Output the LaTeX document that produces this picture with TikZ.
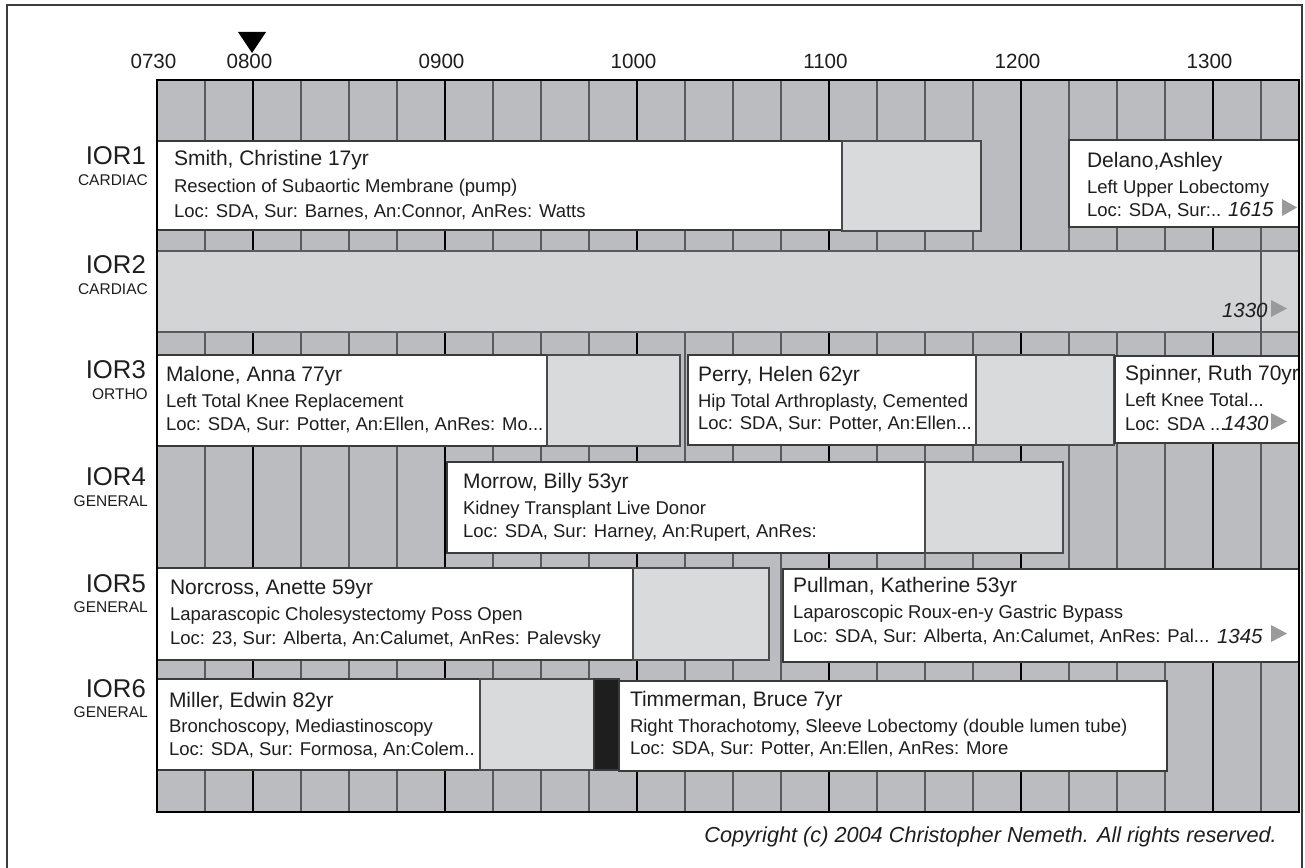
\documentclass[tikz,border=0pt]{standalone}
\usepackage{fontspec}
\setmainfont{Liberation Sans}
\newcommand\setfs[1]{\fontsize{#1}{#1}\selectfont}
\definecolor{gridbg}{HTML}{BBBCC0}
\definecolor{minorln}{HTML}{5A5A5C}
\definecolor{boxline}{HTML}{3A3A3A}
\definecolor{turnfill}{HTML}{D9DADC}
\definecolor{barfill}{HTML}{D3D4D6}
\definecolor{turnline}{HTML}{4A4A4A}
\definecolor{txt}{HTML}{1E1E1E}
\definecolor{arrowgrey}{HTML}{9A9A9A}
\definecolor{framegrey}{HTML}{3C3C3C}
\begin{document}
\begin{tikzpicture}[x=1pt,y=-1pt,
  nm/.style={anchor=base west, inner sep=0pt, outer sep=0pt, font=\setfs{21}, text=txt},
  ln/.style={anchor=base west, inner sep=0pt, outer sep=0pt, font=\setfs{18.5}, text=txt},
  tm/.style={anchor=base west, inner sep=0pt, outer sep=0pt, font=\setfs{20.5}\itshape, text=txt},
  hr/.style={anchor=base, inner sep=0pt, font=\setfs{20.6}, text=txt},
  room/.style={anchor=base east, inner sep=0pt, font=\setfs{25.7}, text=txt},
  svc/.style={anchor=base east, inner sep=0pt, font=\setfs{15.5}, text=txt},
  casebox/.style={draw=boxline, fill=white, line width=1.5pt},
  turnbox/.style={draw=turnline, fill=turnfill, line width=1.5pt},
  minor/.style={draw=minorln, line width=1.3pt},
  major/.style={draw=black, line width=2.6pt},
  more/.style={fill=arrowgrey}
]
\useasboundingbox (0,0) rectangle (1305,867);
\fill[white] (0,0) rectangle (1305,867);
% outer frame
\draw[framegrey, line width=1.5pt] (7,868) -- (7,5) -- (1302,5) -- (1302,868);

% grid
\fill[gridbg] (157,80) rectangle (1299,812);
\foreach \i in {1,3,4,5,7,8,9,11,12,13,15,16,17,19,20,21,23}
  \draw[minor] ({157+48*\i},80) -- ({157+48*\i},812);
\foreach \i in {2,6,10,14,18,22}
  \draw[major] ({157+48*\i},80) -- ({157+48*\i},812);

% current time marker
\fill[black] (238,32) -- (266,32) -- (252,53) -- cycle;

% time labels
\node[hr] (t0730) at (153.5,68) {0730};
\node[hr] (t0800) at (249.5,68) {0800};
\node[hr] (t0900) at (441.5,68) {0900};
\node[hr] (t1000) at (633.5,68) {1000};
\node[hr] (t1100) at (825.5,68) {1100};
\node[hr] (t1200) at (1017.5,68) {1200};
\node[hr] (t1300) at (1209.5,68) {1300};

% room labels
\node[room] (r1) at (146,164) {IOR1};
\node[svc]  (s1) at (148,185) {CARDIAC};
\node[room] (r2) at (146,273) {IOR2};
\node[svc]  (s2) at (148,294) {CARDIAC};
\node[room] (r3) at (146,378) {IOR3};
\node[svc]  (s3) at (148,399) {ORTHO};
\node[room] (r4) at (146,485) {IOR4};
\node[svc]  (s4) at (148,506) {GENERAL};
\node[room] (r5) at (146,592) {IOR5};
\node[svc]  (s5) at (148,612) {GENERAL};
\node[room] (r6) at (146,697) {IOR6};
\node[svc]  (s6) at (148,717) {GENERAL};

% ---- IOR1
\draw[casebox] (157,141) rectangle (842,230);
\draw[turnbox] (842,141) rectangle (981,231);
\draw[casebox] (1069,140) rectangle (1299,227);
\node[nm] (smith1) at (174,165) {Smith, Christine 17yr};
\node[ln] (smith2) at (174,192) {Resection of Subaortic Membrane (pump)};
\node[ln] (smith3) at (174,217) {Loc: SDA, Sur: Barnes, An:Connor, AnRes: Watts};
\node[nm] (delano1) at (1087,167) {Delano,Ashley};
\node[ln] (delano2) at (1087,193) {Left Upper Lobectomy};
\node[ln] (delano3) at (1087,216) {Loc: SDA, Sur:..};
\node[tm] (delanot) at (1228,216) {1615};
\fill[more] (1282,199) -- (1282,216) -- (1297,207.5) -- cycle;

% ---- IOR2
\draw[draw=minorln, fill=barfill, line width=1.3pt] (157,251) rectangle (1299,332);
\draw[minor] (1261,251) -- (1261,332);
\node[tm] (ior2t) at (1222,317) {1330};
\fill[more] (1271,300) -- (1271,317) -- (1287,308.5) -- cycle;

% ---- IOR3
\draw[casebox] (157,355) rectangle (547,446);
\draw[turnbox] (547,355) rectangle (680,446);
\draw[casebox] (688,355) rectangle (976,445);
\draw[turnbox] (976,355) rectangle (1114,445);
\draw[casebox] (1115,356) rectangle (1299,443);
\node[nm] (malone1) at (166,381) {Malone, Anna 77yr};
\node[ln] (malone2) at (166,407) {Left Total Knee Replacement};
\node[ln] (malone3) at (166,430) {Loc: SDA, Sur: Potter, An:Ellen, AnRes: Mo...};
\node[nm] (perry1) at (698,381) {Perry, Helen 62yr};
\node[ln] (perry2) at (698,407) {Hip Total Arthroplasty, Cemented};
\node[ln] (perry3) at (698,429) {Loc: SDA, Sur: Potter, An:Ellen...};
\begin{scope}
\clip (1115,356) rectangle (1298,443);
\node[nm] (spinner1) at (1125,380) {Spinner, Ruth 70yr};
\end{scope}
\node[ln] (spinner2) at (1125,406) {Left Knee Total...};
\node[ln] (spinner3) at (1125,430) {Loc: SDA ...};
\node[tm] (spinnert) at (1223,430) {1430};
\fill[more] (1271,413) -- (1271,430) -- (1287,421.5) -- cycle;

% ---- IOR4
\draw[casebox] (447,462) rectangle (925,553);
\draw[turnbox] (925,462) rectangle (1063,553);
\node[nm] (morrow1) at (463,488) {Morrow, Billy 53yr};
\node[ln] (morrow2) at (463,514) {Kidney Transplant Live Donor};
\node[ln] (morrow3) at (463,537) {Loc: SDA, Sur: Harney, An:Rupert, AnRes:};

% ---- IOR5
\draw[casebox] (157,568) rectangle (633,660);
\draw[turnbox] (633,568) rectangle (769,660);
\draw[casebox] (783,569) rectangle (1299,662);
\node[nm] (norcross1) at (170,594) {Norcross, Anette 59yr};
\node[ln] (norcross2) at (170,620) {Laparascopic Cholesystectomy Poss Open};
\node[ln] (norcross3) at (170,644) {Loc: 23, Sur: Alberta, An:Calumet, AnRes: Palevsky};
\node[nm] (pullman1) at (793,592) {Pullman, Katherine 53yr};
\node[ln] (pullman2) at (793,618) {Laparoscopic Roux-en-y Gastric Bypass};
\node[ln] (pullman3) at (793,642) {Loc: SDA, Sur: Alberta, An:Calumet, AnRes: Pal...};
\node[tm] (pullmant) at (1217,643) {1345};
\fill[more] (1271,625) -- (1271,642) -- (1287,633.5) -- cycle;

% ---- IOR6
\draw[casebox] (157,679) rectangle (480,770);
\draw[turnbox] (480,679) rectangle (594,770);
\draw[draw=boxline, fill=txt, line width=1.5pt] (594,679) rectangle (619,770);
\draw[casebox] (619,681) rectangle (1167,771);
\node[nm] (miller1) at (169,707) {Miller, Edwin 82yr};
\node[ln] (miller2) at (169,732) {Bronchoscopy, Mediastinoscopy};
\node[ln] (miller3) at (169,755) {Loc: SDA, Sur: Formosa, An:Colem..};
\node[nm] (timm1) at (630,706) {Timmerman, Bruce 7yr};
\node[ln] (timm2) at (630,732) {Right Thorachotomy, Sleeve Lobectomy (double lumen tube)};
\node[ln] (timm3) at (630,754) {Loc: SDA, Sur: Potter, An:Ellen, AnRes: More};

% grid border
\draw[black, line width=2.6pt] (157,80) rectangle (1299,812);

% copyright
\node[anchor=base east, inner sep=0pt, font=\setfs{21.7}\itshape, text=txt] (copy) at (1277,842) {Copyright (c) 2004 Christopher Nemeth. All rights reserved.};
\end{tikzpicture}
\end{document}
